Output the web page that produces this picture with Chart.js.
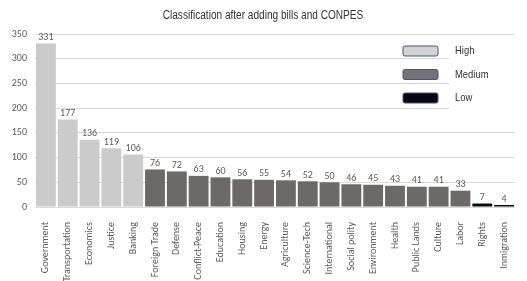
<!DOCTYPE html>
<html>
<head>
<meta charset="utf-8">
<script src="https://cdn.jsdelivr.net/npm/chart.js@4.4.0/dist/chart.umd.min.js"></script>
<style>
  html, body { margin: 0; padding: 0; background: #fff; }
  #wrap { width: 527px; height: 281px; }
</style>
</head>
<body>
<div id="wrap"><canvas id="chart"></canvas></div>
<script>
// categories and counts
const categories = ['Government', 'Transportation', 'Economics', 'Justice', 'Banking',
  'Foreign Trade', 'Defense', 'Conflict-Peace', 'Education', 'Housing', 'Energy',
  'Agriculture', 'Science-Tech', 'International', 'Social polity', 'Environment',
  'Health', 'Public Lands', 'Culture', 'Labor', 'Rights', 'Inmigration'];
const counts = [331, 177, 136, 119, 106, 76, 72, 63, 60, 56, 55, 54, 52, 50, 46, 45, 43, 41, 41, 33, 7, 4];
const levels = ['High', 'High', 'High', 'High', 'High',
  'Medium', 'Medium', 'Medium', 'Medium', 'Medium', 'Medium', 'Medium', 'Medium', 'Medium',
  'Medium', 'Medium', 'Medium', 'Medium', 'Medium', 'Medium', 'Low', 'Low'];
const levelNames = ['High', 'Medium', 'Low'];
const yTicks = [0, 50, 100, 150, 200, 250, 300, 350];
const chartTitle = 'Classification after adding bills and CONPES';

const levelColors = { High: '#cbcbcb', Medium: '#6d6969', Low: '#08080f' };
const legendFill = { High: '#d2d2d6', Medium: '#75717a', Low: '#060616' };

const narrow = '"Liberation Sans", sans-serif';
const body = 'Carlito, "Liberation Sans", sans-serif';

// squeezed text, the original uses a condensed face
function condensedText(ctx, text, x, y, squeeze) {
  ctx.save();
  ctx.translate(x, y);
  ctx.scale(squeeze, 1);
  ctx.fillText(text, 0, 0);
  ctx.restore();
}

// value labels above every bar
const valueLabels = {
  id: 'valueLabels',
  afterDatasetsDraw(chart) {
    const ctx = chart.ctx;
    const meta = chart.getDatasetMeta(0);
    ctx.save();
    ctx.font = '10px ' + body;
    ctx.fillStyle = '#595959';
    ctx.textAlign = 'center';
    ctx.textBaseline = 'bottom';
    meta.data.forEach((bar, i) => {
      ctx.fillText(String(counts[i]), bar.x, bar.y - 1);
    });
    ctx.restore();
  }
};

// title and legend drawn by hand
const titleAndLegend = {
  id: 'titleAndLegend',
  afterDraw(chart) {
    const ctx = chart.ctx;
    const area = chart.chartArea;
    ctx.save();
    ctx.fillStyle = '#333';
    ctx.font = '12px ' + narrow;
    ctx.textAlign = 'center';
    ctx.textBaseline = 'middle';
    condensedText(ctx, chartTitle, 263, 16, 0.84);

    const x0 = area.right - 112;
    const y0 = area.top + 12;
    ctx.fillStyle = '#fff';
    ctx.fillRect(area.right - 66, area.top + 6, 68, 72);
    levelNames.forEach((name, i) => {
      const y = y0 + i * 23.5;
      ctx.beginPath();
      ctx.roundRect(x0, y, 35, 10, 2);
      ctx.fillStyle = legendFill[name];
      ctx.fill();
      ctx.lineWidth = 1;
      ctx.strokeStyle = '#4a5472';
      ctx.stroke();
      ctx.fillStyle = '#333';
      ctx.font = '11.5px ' + narrow;
      ctx.textAlign = 'left';
      ctx.textBaseline = 'middle';
      condensedText(ctx, name, x0 + 52, y + 5, 0.82);
    });
    ctx.restore();
  }
};

new Chart(document.getElementById('chart'), {
  type: 'bar',
  data: {
    labels: categories,
    datasets: [{
      label: 'Bills and CONPES',
      data: counts,
      backgroundColor: levels.map(l => levelColors[l]),
      borderWidth: 0,
      barPercentage: 0.91,
      categoryPercentage: 1.0
    }]
  },
  options: {
    responsive: true,
    maintainAspectRatio: false,
    animation: false,
    layout: { padding: { left: 0, right: 12, top: 34, bottom: 0 } },
    scales: {
      x: {
        afterFit: scale => { scale.height = 74; },
        grid: { display: false },
        border: { display: false },
        ticks: {
          font: { size: 10, family: body },
          color: '#595959',
          minRotation: 90,
          maxRotation: 90,
          autoSkip: false,
          padding: 7
        }
      },
      y: {
        min: 0,
        max: 350,
        afterFit: scale => { scale.width = 35; },
        afterBuildTicks: axis => { axis.ticks = yTicks.map(v => ({ value: v })); },
        grid: { color: '#d9d9d9', lineWidth: 1, drawTicks: false },
        border: { display: false },
        ticks: {
          font: { size: 10, family: body },
          color: '#595959',
          padding: 8
        }
      }
    },
    plugins: {
      legend: { display: false },
      tooltip: { enabled: false },
      title: { display: false }
    }
  },
  plugins: [valueLabels, titleAndLegend]
});
</script>
</body>
</html>
